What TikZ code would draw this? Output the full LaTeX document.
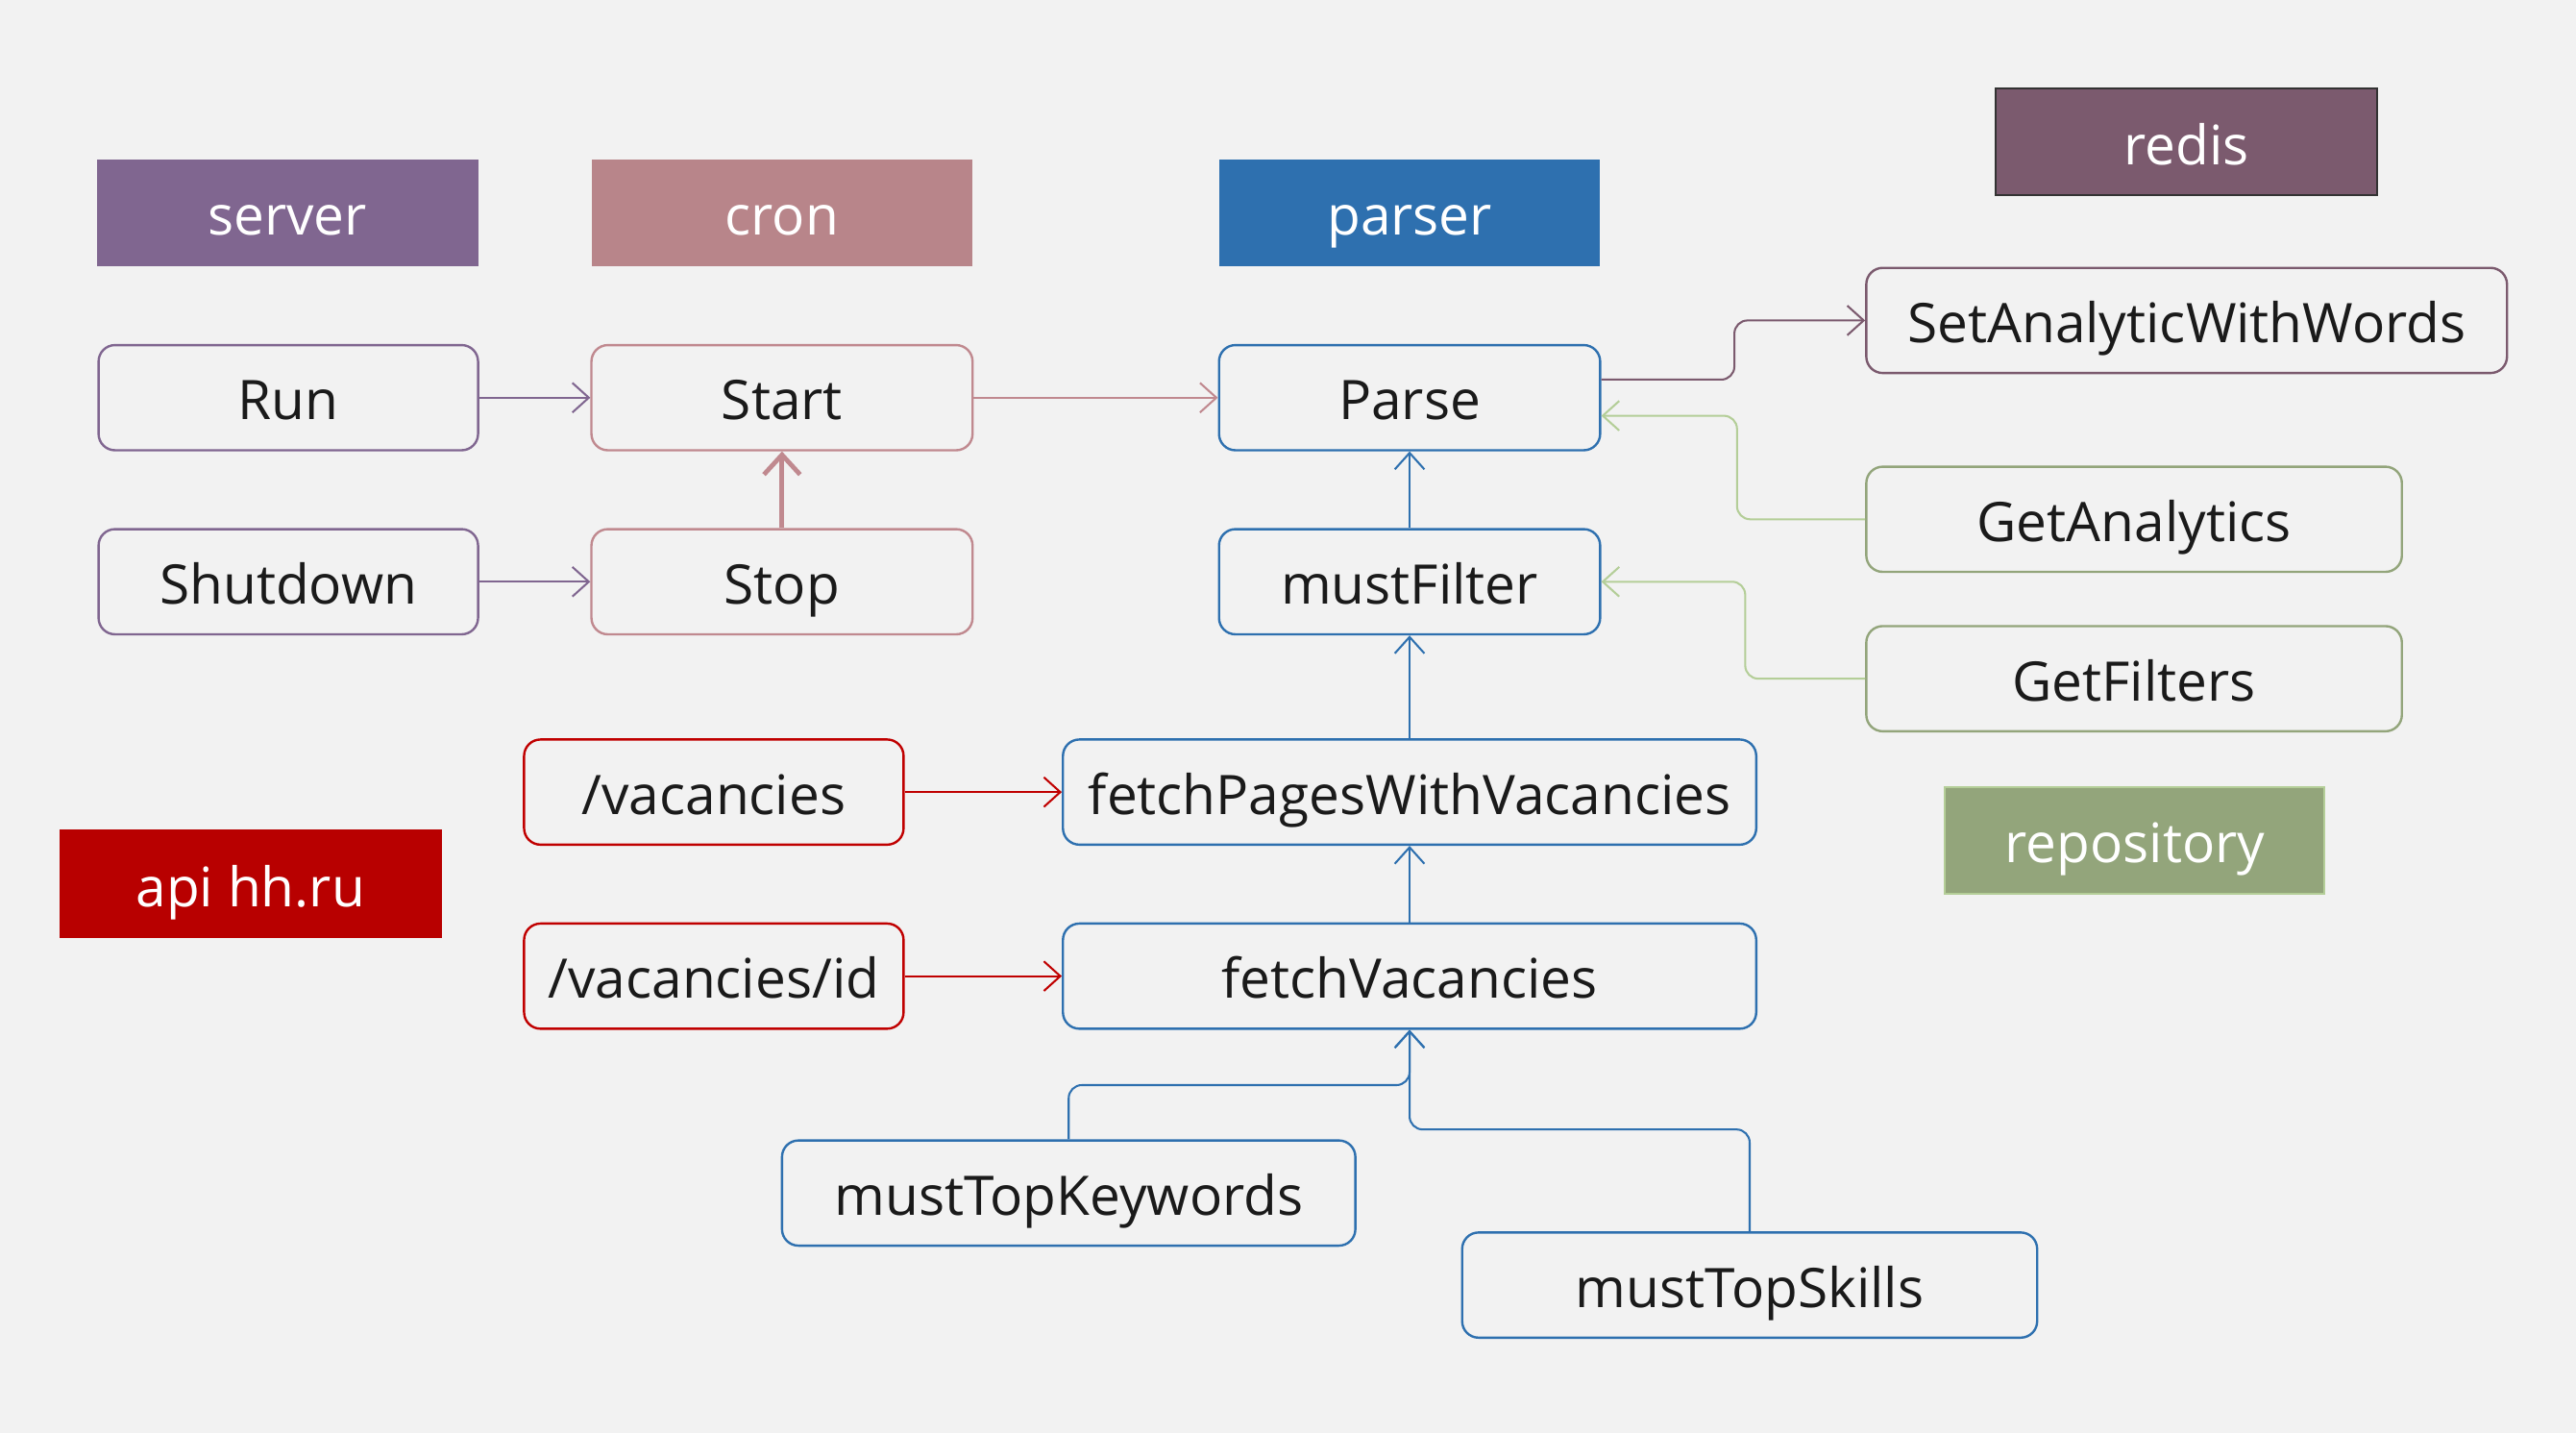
\documentclass[tikz,border=0pt]{standalone}
\usepackage{fontspec}
\setmainfont{Open Sans}
\usetikzlibrary{arrows.meta,calc}
\definecolor{bg}{HTML}{F2F2F2}
\definecolor{srv}{HTML}{806690}
\definecolor{crn}{HTML}{B8858A}
\definecolor{crnline}{HTML}{C0898F}
\definecolor{prs}{HTML}{2E70AF}
\definecolor{rds}{HTML}{7B5A6E}
\definecolor{rep}{HTML}{93A57B}
\definecolor{repline}{HTML}{B4CE98}
\definecolor{api}{HTML}{B80000}
\definecolor{apiline}{HTML}{C00000}
\definecolor{txt}{HTML}{1A1A1A}
\tikzset{
  hdr/.style={fill=#1, text=white, minimum width=116pt, minimum height=32.5pt, inner sep=0pt, text height=13.6pt, text depth=0pt, font=\fontsize{16.6}{20}\selectfont},
  fn/.style={draw=#1, fill=bg, rounded corners=5pt, line width=0.7pt, minimum height=32pt, inner sep=0pt, text height=13.5pt, text depth=0pt, text=txt, font=\fontsize{16.6}{20}\selectfont},
  conn/.style={draw=#1, line width=0.6pt, -{Straight Barb[length=5pt,width=9pt]}, rounded corners=4pt}
}
\begin{document}
\begin{tikzpicture}[x=0.5pt,y=-0.5pt]
\fill[bg] (0,0) rectangle (1568,872);
\useasboundingbox (0,0) rectangle (1568,872);
% headers
\node[hdr=srv] (server) at (175,129.5) {server};
\node[hdr=crn] (cron) at (476,129.5) {cron};
\node[hdr=prs] (parser) at (858,129.5) {parser};
\node[hdr=rds, draw=black!80, line width=0.6pt] (redis) at (1331,86.5) {redis};
\node[hdr=rep, draw=repline, line width=0.6pt, minimum width=115.5pt] (repo) at (1299.5,511.5) {repository};
\node[hdr=api, minimum width=116.5pt, minimum height=33pt] (apihh) at (152.5,538) {api hh.ru};
% function boxes
\node[fn=srv, minimum width=115.5pt] (run) at (175.5,242) {Run};
\node[fn=srv, minimum width=115.5pt] (shutdown) at (175.5,354) {Shutdown};
\node[fn=crnline, minimum width=116pt] (start) at (476,242) {Start};
\node[fn=crnline, minimum width=116pt] (stop) at (476,354) {Stop};
\node[fn=prs, minimum width=116pt] (parse) at (858,242) {Parse};
\node[fn=prs, minimum width=116pt] (mustfilter) at (858,354) {mustFilter};
\node[fn=prs, minimum width=211pt] (fetchpages) at (858,482) {fetchPagesWithVacancies};
\node[fn=prs, minimum width=211pt] (fetchvac) at (858,594) {fetchVacancies};
\node[fn=apiline, minimum width=115.5pt] (vac) at (434.5,482) {/vacancies};
\node[fn=apiline, minimum width=115.5pt] (vacid) at (434.5,594) {/vacancies/id};
\node[fn=prs, minimum width=174.5pt] (mtk) at (650.5,726) {mustTopKeywords};
\node[fn=prs, minimum width=175pt] (mts) at (1065,782) {mustTopSkills};
\node[fn=rds, minimum width=195pt] (setaw) at (1331,195) {SetAnalyticWithWords};
\node[fn=rep, minimum width=163pt] (geta) at (1299,316) {GetAnalytics};
\node[fn=rep, minimum width=163pt] (getf) at (1299,413) {GetFilters};
% connectors
\draw[conn=srv] (run) -- (start);
\draw[conn=srv] (shutdown) -- (stop);
\draw[conn=crnline, line width=1.4pt, -{Straight Barb[length=6pt,width=11pt]}] (stop) -- (start);
\draw[conn=crnline] (start) -- (parse);
\draw[conn=rds] ([yshift=5.5pt]parse.east) -- ++(40.5pt,0) |- (setaw.west);
\draw[conn=repline] (geta.west) -- ++(-39pt,0) |- ([yshift=-5.5pt]parse.east);
\draw[conn=repline] (getf.west) -- ++(-36.5pt,0) |- (mustfilter.east);
\draw[conn=prs] (mustfilter) -- (parse);
\draw[conn=prs] (fetchpages) -- (mustfilter);
\draw[conn=prs] (fetchvac) -- (fetchpages);
\draw[conn=apiline] (vac) -- (fetchpages);
\draw[conn=apiline] (vacid) -- (fetchvac);
\draw[conn=prs] (mtk.north) -- ++(0,16.5pt) -| (fetchvac.south);
\draw[conn=prs] (mts.north) -- ++(0,31pt) -| (fetchvac.south);
\end{tikzpicture}
\end{document}
